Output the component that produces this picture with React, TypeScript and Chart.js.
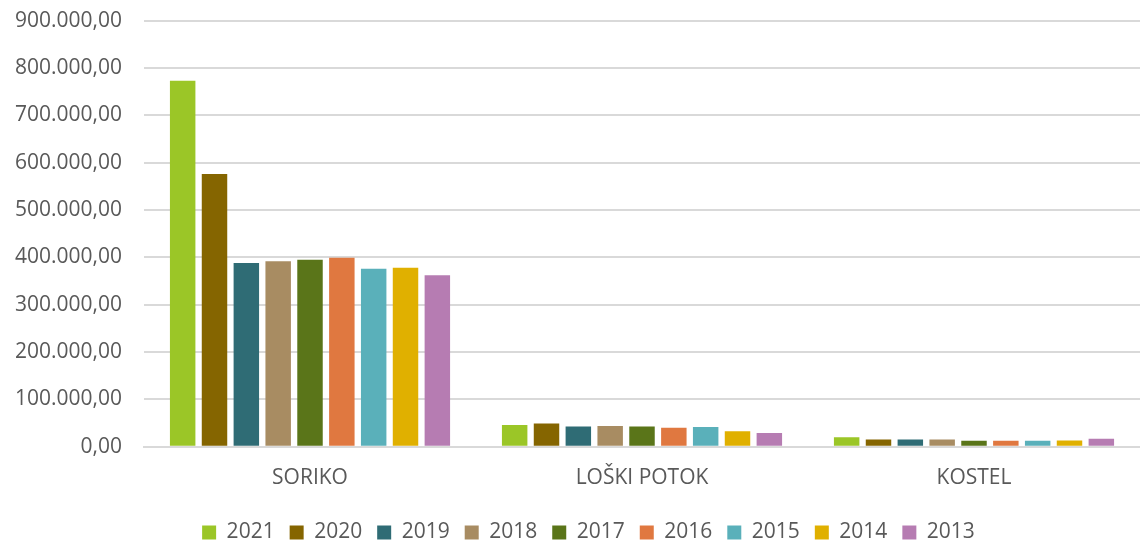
import React, { useEffect, useRef } from "react";
import { Chart, registerables } from "chart.js";

Chart.register(...registerables);

const categories = ["SORIKO", "LOŠKI POTOK", "KOSTEL"];
const years = ["2021", "2020", "2019", "2018", "2017", "2016", "2015", "2014", "2013"];
const colors = ["#9BC627", "#856500", "#2F6C75", "#A88C62", "#5A7519", "#E07840", "#5AB0BA", "#E0B000", "#B67CB2"];
const v2021 = [773000, 46000, 20000];
const v2020 = [576000, 49000, 15500];
const v2019 = [388000, 43000, 15500];
const v2018 = [392000, 44000, 15500];
const v2017 = [395000, 43000, 13000];
const v2016 = [399000, 40000, 13000];
const v2015 = [376000, 42000, 13000];
const v2014 = [378000, 33000, 13500];
const v2013 = [362000, 29000, 17000];
const seriesValues = [v2021, v2020, v2019, v2018, v2017, v2016, v2015, v2014, v2013];

const fmt = (v: number) => {
  const s = Math.round(v).toString().replace(/\B(?=(\d{3})+(?!\d))/g, ".");
  return s + ",00";
};

const FONT = { family: "Open Sans", size: 21 };

const shiftLegend = {
  id: "shiftLegend",
  afterLayout(chart: any) {
    const l = chart.legend;
    if (!l) return;
    const dx = 22;
    const dy = -3;
    l.left += dx;
    l.right += dx;
    l.top += dy;
    l.bottom += dy;
  },
};

export default function App() {
  const ref = useRef<HTMLCanvasElement | null>(null);
  useEffect(() => {
    if (!ref.current) return;
    const chart = new Chart(ref.current, {
      type: "bar",
      data: {
        labels: categories,
        datasets: years.map((y, i) => ({
          label: y,
          data: seriesValues[i],
          backgroundColor: colors[i],
          borderWidth: 0,
          categoryPercentage: 0.863,
          barPercentage: 0.8,
        })),
      },
      options: {
        animation: false,
        responsive: false,
        maintainAspectRatio: false,
        layout: { padding: { top: 0, right: 0, left: 10, bottom: 0 } },
        plugins: {
          tooltip: { enabled: false },
          legend: {
            position: "bottom",
            labels: {
              boxWidth: 14,
              boxHeight: 14,
              padding: 15,
              color: "#595959",
              font: FONT,
            },
          },
        },
        scales: {
          x: {
            grid: { display: false, drawTicks: false },
            border: { color: "#d9d9d9", width: 2 },
            ticks: { color: "#595959", padding: 19, font: FONT },
          },
          y: {
            min: 0,
            max: 900000,
            border: { display: false },
            grid: { color: "#d9d9d9", lineWidth: 2, drawTicks: false },
            ticks: {
              stepSize: 100000,
              padding: 22,
              color: "#595959",
              font: FONT,
              callback: (v: any) => fmt(Number(v)),
            },
          },
        },
      },
      plugins: [shiftLegend],
    });
    return () => chart.destroy();
  }, []);
  return (
    <div style={{ position: "fixed", left: 0, top: 0, width: 1140, height: 541, overflow: "hidden", background: "#fff" }}>
      <canvas
        ref={ref}
        width={1157}
        height={570}
        style={{ position: "absolute", left: -17, top: -14, width: 1157, height: 570 }}
      />
    </div>
  );
}
